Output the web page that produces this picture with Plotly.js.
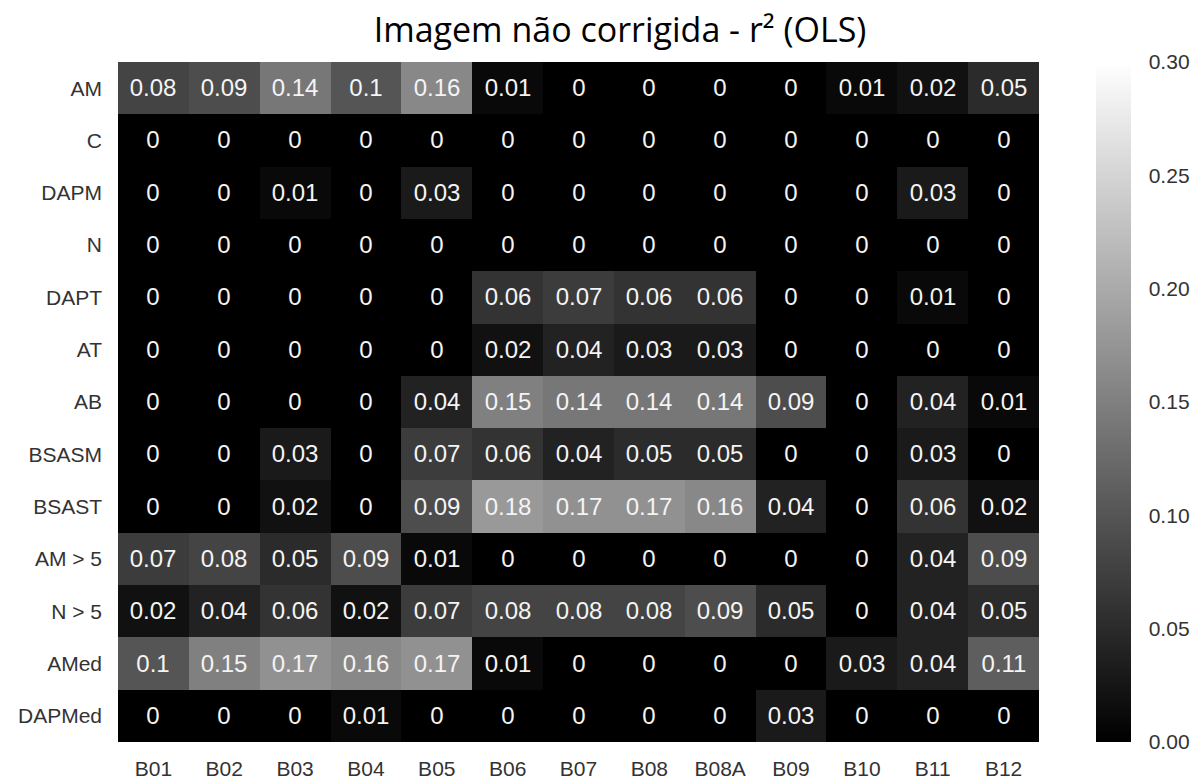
<!DOCTYPE html>
<html>
<head>
<meta charset="utf-8">
<script src="https://cdn.plot.ly/plotly-3.0.1.min.js"></script>
<style>
  html, body { margin: 0; padding: 0; background: #ffffff; }
  #chart { width: 1203px; height: 784px; }
</style>
</head>
<body>
<div id="chart"></div>
<script>
// Spectral bands (columns) and forest variables (rows)
const bands = ["B01", "B02", "B03", "B04", "B05", "B06", "B07", "B08", "B08A", "B09", "B10", "B11", "B12"];
const variables = ["AM", "C", "DAPM", "N", "DAPT", "AT", "AB", "BSASM", "BSAST", "AM > 5", "N > 5", "AMed", "DAPMed"];

// r² of the OLS fit, one row per variable
const rAM     = [0.08, 0.09, 0.14, 0.1, 0.16, 0.01, 0, 0, 0, 0, 0.01, 0.02, 0.05];
const rC      = [0, 0, 0, 0, 0, 0, 0, 0, 0, 0, 0, 0, 0];
const rDAPM   = [0, 0, 0.01, 0, 0.03, 0, 0, 0, 0, 0, 0, 0.03, 0];
const rN      = [0, 0, 0, 0, 0, 0, 0, 0, 0, 0, 0, 0, 0];
const rDAPT   = [0, 0, 0, 0, 0, 0.06, 0.07, 0.06, 0.06, 0, 0, 0.01, 0];
const rAT     = [0, 0, 0, 0, 0, 0.02, 0.04, 0.03, 0.03, 0, 0, 0, 0];
const rAB     = [0, 0, 0, 0, 0.04, 0.15, 0.14, 0.14, 0.14, 0.09, 0, 0.04, 0.01];
const rBSASM  = [0, 0, 0.03, 0, 0.07, 0.06, 0.04, 0.05, 0.05, 0, 0, 0.03, 0];
const rBSAST  = [0, 0, 0.02, 0, 0.09, 0.18, 0.17, 0.17, 0.16, 0.04, 0, 0.06, 0.02];
const rAM5    = [0.07, 0.08, 0.05, 0.09, 0.01, 0, 0, 0, 0, 0, 0, 0.04, 0.09];
const rN5     = [0.02, 0.04, 0.06, 0.02, 0.07, 0.08, 0.08, 0.08, 0.09, 0.05, 0, 0.04, 0.05];
const rAMed   = [0.1, 0.15, 0.17, 0.16, 0.17, 0.01, 0, 0, 0, 0, 0.03, 0.04, 0.11];
const rDAPMed = [0, 0, 0, 0.01, 0, 0, 0, 0, 0, 0.03, 0, 0, 0];

const colorbarTicks = [0, 0.05, 0.10, 0.15, 0.20, 0.25, 0.30];

const zRows = [rAM, rC, rDAPM, rN, rDAPT, rAT, rAB, rBSASM, rBSAST, rAM5, rN5, rAMed, rDAPMed];
const textRows = zRows.map(row => row.map(v => String(v)));

const W = 1203, H = 784;
const plotL = 118, plotR = 1039, plotT = 62, plotB = 742;
const labelFont = "Liberation Sans, Arial, sans-serif";

const trace = {
  type: "heatmap",
  x: bands,
  y: variables,
  z: zRows,
  text: textRows,
  texttemplate: "%{text}",
  textfont: { family: labelFont, size: 24, color: "#f4f4f4" },
  zmin: 0,
  zmax: 0.3,
  colorscale: [[0, "#000000"], [1, "#ffffff"]],
  xgap: 0,
  ygap: 0,
  colorbar: {
    x: (1096 - plotL) / (plotR - plotL),
    xanchor: "left",
    xpad: 0,
    y: 0,
    yanchor: "bottom",
    len: 1,
    lenmode: "fraction",
    ypad: 0,
    thickness: 35,
    thicknessmode: "pixels",
    outlinewidth: 0,
    tickvals: colorbarTicks,
    ticktext: colorbarTicks.map(v => v.toFixed(2)),
    ticks: "outside",
    ticklen: 14,
    tickcolor: "rgba(0,0,0,0)",
    tickfont: { family: labelFont, size: 21, color: "#333333" }
  }
};

const layout = {
  width: W,
  height: H,
  paper_bgcolor: "#ffffff",
  plot_bgcolor: "#ffffff",
  margin: { l: plotL, r: W - plotR, t: plotT, b: H - plotB, pad: 0 },
  title: {
    text: "Imagem não corrigida - r² (OLS)",
    font: { family: "Open Sans, sans-serif", size: 34, color: "#000000" },
    xref: "container",
    x: 620 / W,
    xanchor: "center",
    yref: "container",
    y: 1 - 30 / H,
    yanchor: "middle"
  },
  xaxis: {
    type: "category",
    side: "bottom",
    showgrid: false,
    zeroline: false,
    showline: false,
    ticks: "",
    ticklabelstandoff: 12,
    tickfont: { family: labelFont, size: 21, color: "#333333" }
  },
  yaxis: {
    type: "category",
    autorange: "reversed",
    showgrid: false,
    zeroline: false,
    showline: false,
    ticks: "",
    ticklabelstandoff: 15,
    tickfont: { family: labelFont, size: 21, color: "#333333" }
  },
  showlegend: false
};

Plotly.newPlot("chart", [trace], layout, { displayModeBar: false, staticPlot: true });
</script>
</body>
</html>
